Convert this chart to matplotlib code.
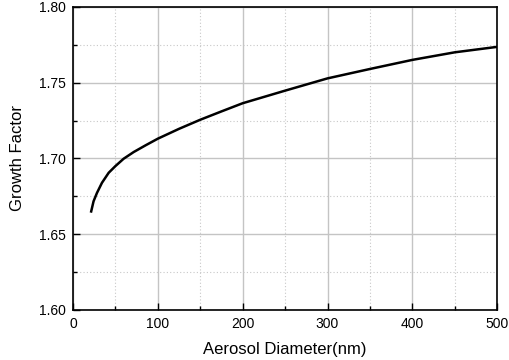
import matplotlib
matplotlib.use("Agg")
import matplotlib.pyplot as plt
from matplotlib.ticker import MultipleLocator, FormatStrFormatter

diameter = [21.5, 24.3, 28.3, 34.2, 42.1, 50, 59.8, 71.6, 85.5, 100, 125, 150, 175, 200,
            250, 300, 350, 400, 450, 500]
growth = [1.6650, 1.6717, 1.6772, 1.6839, 1.6905, 1.6949, 1.6998, 1.7042, 1.7086, 1.7130,
          1.7195, 1.7255, 1.7310, 1.7364, 1.7447, 1.7528, 1.7590, 1.7650, 1.7700, 1.7736]

plt.rcParams['font.family'] = ['Liberation Sans', 'DejaVu Sans']

fig = plt.figure(figsize=(5.1, 3.6), dpi=100)
ax = fig.add_axes([0.143, 0.139, 0.832, 0.842])

ax.plot(diameter, growth, color='black', lw=1.8, zorder=3, solid_joinstyle='round')

ax.set_xlim(0, 500)
ax.set_ylim(1.60, 1.80)
ax.xaxis.set_major_locator(MultipleLocator(100))
ax.xaxis.set_minor_locator(MultipleLocator(50))
ax.yaxis.set_major_locator(MultipleLocator(0.05))
ax.yaxis.set_minor_locator(MultipleLocator(0.025))
ax.yaxis.set_major_formatter(FormatStrFormatter('%.2f'))

ax.grid(which='major', color='#c4c4c4', lw=1.0, ls='-')
ax.grid(which='minor', color='#c8c8c8', lw=0.8, ls=(0, (1, 2)))
ax.set_axisbelow(True)

ax.tick_params(which='both', direction='in', top=False, right=False, labelsize=10, pad=5)
ax.tick_params(which='major', length=5, width=1)
ax.tick_params(which='minor', length=3, width=1)
for s in ax.spines.values():
    s.set_linewidth(1.2)

ax.set_xlabel('Aerosol Diameter(nm)', fontsize=12, labelpad=8)
ax.set_ylabel('Growth Factor', fontsize=12, labelpad=10)

fig.savefig('out.png', dpi=100)
